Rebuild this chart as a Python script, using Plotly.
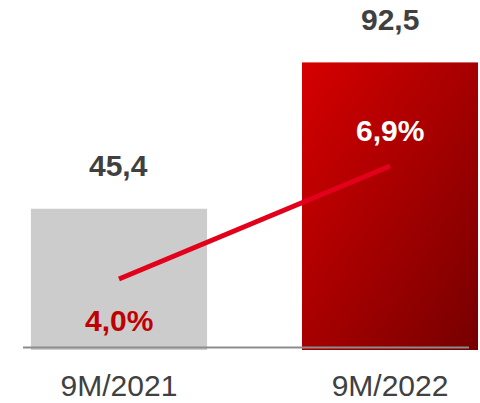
import base64
import plotly.graph_objects as go

periods = ["9M/2021", "9M/2022"]
revenue = [45.4, 92.5]
margin_pct = [4.0, 6.9]
revenue_labels = ["45,4", "92,5"]
margin_labels = ["4,0%", "6,9%"]

x_pos = list(range(len(periods)))
bar_width = 0.65

# gradient used for the 2022 bar (plotly bars have no gradient fill)
svg = ('<svg xmlns="http://www.w3.org/2000/svg" width="100" height="100" preserveAspectRatio="none">'
       '<defs><linearGradient id="g" x1="0" y1="0" x2="1" y2="1">'
       '<stop offset="0" stop-color="#d60000"/><stop offset="1" stop-color="#760000"/>'
       '</linearGradient></defs><rect width="100" height="100" fill="url(#g)"/></svg>')
svg_uri = "data:image/svg+xml;base64," + base64.b64encode(svg.encode()).decode()

fig = go.Figure()

fig.add_trace(go.Bar(
    x=x_pos, y=revenue, width=bar_width,
    marker=dict(color=["#cccccc", "rgba(0,0,0,0)"], line=dict(width=0)),
    hoverinfo="skip", showlegend=False
))

fig.add_trace(go.Scatter(
    x=x_pos, y=margin_pct, yaxis="y2", mode="lines",
    line=dict(color="#e2001a", width=5),
    showlegend=False
))

fig.add_layout_image(dict(
    source=svg_uri, xref="x", yref="y",
    x=x_pos[1] - bar_width / 2, y=revenue[1],
    sizex=bar_width, sizey=revenue[1],
    sizing="stretch", xanchor="left", yanchor="top", layer="below"
))

font_family = "Liberation Sans, Arial, sans-serif"

for i in range(len(periods)):
    fig.add_annotation(
        x=x_pos[i], y=revenue[i], xref="x", yref="y",
        text="<b>" + revenue_labels[i] + "</b>", showarrow=False,
        yanchor="middle", yshift=43,
        font=dict(family=font_family, size=30, color="#404040")
    )

margin_colors = ["#c00000", "#ffffff"]
margin_shift = [-41, 36]
for i in range(len(periods)):
    fig.add_annotation(
        x=x_pos[i], y=margin_pct[i], xref="x", yref="y2",
        text="<b>" + margin_labels[i] + "</b>", showarrow=False,
        yanchor="middle", yshift=margin_shift[i],
        font=dict(family=font_family, size=30, color=margin_colors[i])
    )

fig.add_shape(type="line", xref="paper", yref="paper",
              x0=23 / 480, x1=469 / 480, y0=0.007, y1=0.007,
              line=dict(color="#8c8c8c", width=2))

fig.update_layout(
    width=480, height=403,
    margin=dict(l=0, r=0, t=0, b=53),
    paper_bgcolor="white",
    plot_bgcolor="rgba(0,0,0,0)",
    font=dict(family=font_family, color="#404040"),
    xaxis=dict(range=[-0.439, 1.332], tickvals=x_pos, ticktext=periods,
               showgrid=False, zeroline=False, showline=False, ticks="",
               automargin=False, ticklabelstandoff=15,
               tickfont=dict(size=30, color="#404040")),
    yaxis=dict(range=[0, 112.5], visible=False, showgrid=False,
               zeroline=False, automargin=False),
    yaxis2=dict(range=[2.18, 11.16], overlaying="y", visible=False,
                showgrid=False, zeroline=False, automargin=False),
)

# drop the default 8px body margin so the figure sits at the page origin
fig.write_html("out.html", config={"displayModeBar": False},
               post_script="document.body.style.margin='0';")
